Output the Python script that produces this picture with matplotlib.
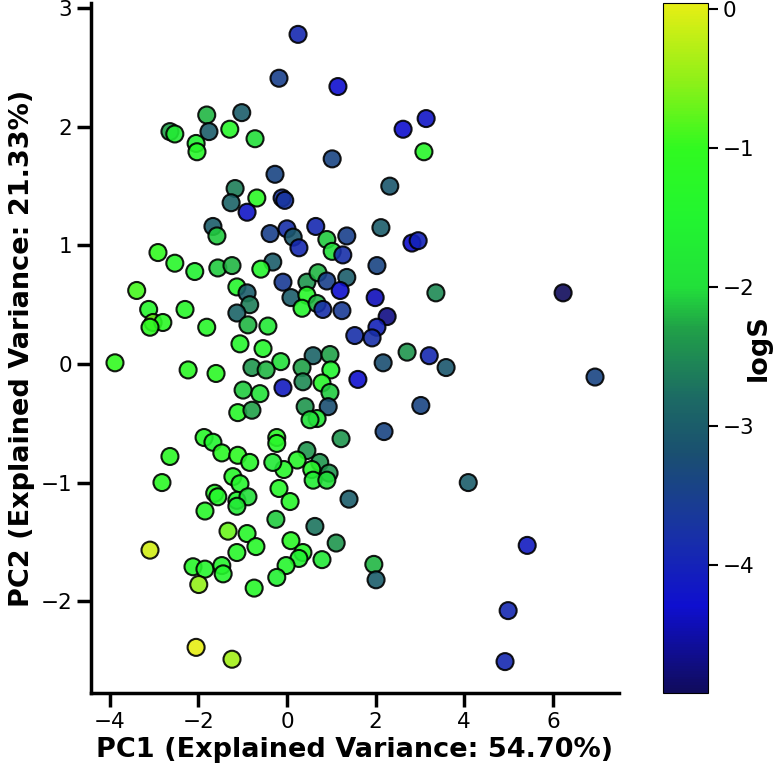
import matplotlib
matplotlib.use('Agg')
import matplotlib.pyplot as plt
from matplotlib.colors import LinearSegmentedColormap

# PCA scores (PC1, PC2) and the solubility value of each compound
pc1 = [0.25, -0.18, 1.15, -1.81, -1.02, -2.64, -2.53, -1.76, -1.29, -0.72,
       -2.05, -2.03, 1.02, -0.27, -1.17, -1.26, -0.68, -0.90, -0.11, -0.05,
       -1.67, -1.58, -0.38, 0.00, 0.14, 0.27, 0.65, 0.90, 1.02, 1.35,
       1.26, -2.91, 2.62, 3.14, 3.09, 2.32, 2.12, 2.82, 2.96, -0.32,
       2.03, -0.09, 0.45, 0.70, 0.90, 1.35, 1.20, 0.09, 0.45, 0.34,
       0.68, 0.81, 1.24, 1.99, 2.26, 2.03, 1.53, 1.92, 0.59, 0.97,
       -0.14, 0.34, 0.99, 2.17, 2.71, 3.36, 6.23, 3.21, 3.59, 6.95,
       1.60, 3.02, 2.19, 1.22, 0.79, 0.97, 0.36, 0.41, 0.93, 0.68,
       0.52, -0.09, -0.23, -0.23, 0.45, 0.74, 0.56, 0.95, 0.59, 0.90,
       0.23, -0.07, -0.32, -0.18, 0.07, -0.25, -2.53, -2.08, -1.56, -1.24,
       -0.59, -3.39, -3.12, -2.30, -3.02, -2.80, -3.09, -1.13, -0.90, -0.84,
       -1.13, -0.88, -0.43, -1.81, -1.06, -0.54, -3.88, -2.23, -1.60, -0.79,
       -0.47, -0.99, -0.61, -1.11, -0.79, -1.87, -1.67, -1.47, -1.11, -0.84,
       -2.64, -2.82, -1.22, -1.06, -1.63, -1.56, -1.13, -0.88, -1.13, -1.85,
       -1.33, -0.90, -0.70, -1.13, -3.09, -2.12, -1.85, -1.47, -1.44, -1.99,
       -0.74, -2.05, -1.24, 0.63, 1.11, 0.79, 1.96, 2.01, 0.09, 0.36,
       0.27, -0.02, -0.23, 1.40, 4.09, 5.42, 4.99, 4.92]
pc2 = [2.78, 2.41, 2.34, 2.10, 2.12, 1.96, 1.94, 1.96, 1.98, 1.90,
       1.86, 1.79, 1.73, 1.60, 1.48, 1.36, 1.40, 1.28, 1.40, 1.38,
       1.16, 1.08, 1.10, 1.14, 1.07, 0.98, 1.16, 1.05, 0.95, 1.08,
       0.92, 0.94, 1.98, 2.07, 1.79, 1.50, 1.15, 1.02, 1.04, 0.86,
       0.83, 0.69, 0.69, 0.77, 0.70, 0.73, 0.62, 0.56, 0.58, 0.47,
       0.51, 0.46, 0.45, 0.56, 0.40, 0.31, 0.24, 0.22, 0.07, 0.08,
       0.02, -0.03, -0.05, 0.01, 0.10, 0.60, 0.60, 0.07, -0.03, -0.11,
       -0.13, -0.35, -0.57, -0.63, -0.16, -0.24, -0.15, -0.36, -0.36, -0.46,
       -0.47, -0.20, -0.62, -0.67, -0.73, -0.83, -0.89, -0.92, -0.98, -0.98,
       -0.81, -0.89, -0.83, -1.05, -1.16, -1.31, 0.85, 0.78, 0.81, 0.83,
       0.80, 0.62, 0.46, 0.46, 0.35, 0.35, 0.31, 0.65, 0.60, 0.50,
       0.43, 0.33, 0.32, 0.31, 0.17, 0.13, 0.01, -0.05, -0.08, -0.03,
       -0.05, -0.22, -0.25, -0.41, -0.39, -0.62, -0.66, -0.75, -0.77, -0.83,
       -0.78, -1.00, -0.95, -1.01, -1.09, -1.12, -1.15, -1.12, -1.20, -1.24,
       -1.41, -1.43, -1.54, -1.59, -1.57, -1.71, -1.73, -1.70, -1.77, -1.86,
       -1.89, -2.39, -2.49, -1.37, -1.51, -1.65, -1.69, -1.82, -1.49, -1.59,
       -1.64, -1.70, -1.80, -1.14, -1.00, -1.53, -2.08, -2.51]
logs = [-3.9, -3.5, -4.3, -2.2, -3.0, -2.3, -1.7, -3.0, -1.3, -2.0,
        -1.6, -1.3, -3.4, -3.4, -2.6, -2.9, -1.2, -4.2, -3.7, -3.7,
        -3.0, -2.1, -3.5, -3.8, -3.1, -3.9, -3.9, -2.1, -2.0, -3.5,
        -3.8, -1.0, -4.3, -4.2, -1.3, -3.1, -3.0, -4.3, -4.0, -3.0,
        -3.4, -3.6, -2.4, -2.2, -3.5, -3.0, -4.3, -3.0, -1.3, -1.4,
        -2.2, -3.8, -3.6, -4.4, -4.7, -4.0, -3.8, -3.8, -2.9, -2.3,
        -2.0, -2.3, -1.5, -3.2, -2.4, -2.5, -4.92, -3.9, -3.1, -3.4,
        -4.3, -3.4, -3.4, -2.4, -1.3, -2.1, -2.5, -2.4, -3.2, -1.8,
        -2.0, -4.1, -1.2, -1.3, -2.4, -2.4, -1.3, -2.4, -1.7, -2.0,
        -1.3, -1.3, -1.8, -1.3, -1.3, -2.1, -1.3, -1.6, -2.1, -2.2,
        -1.4, -0.9, -1.4, -1.3, -0.7, -1.2, -1.1, -1.4, -3.0, -2.6,
        -2.9, -2.2, -1.8, -1.3, -1.4, -1.4, -1.0, -1.2, -1.2, -2.4,
        -2.2, -2.1, -1.9, -1.3, -2.3, -1.3, -1.5, -1.2, -1.1, -1.3,
        -1.2, -1.2, -1.3, -1.4, -1.3, -1.4, -1.5, -2.0, -1.8, -1.3,
        -0.7, -1.3, -1.3, -1.3, -0.1, -1.3, -1.4, -1.4, -1.4, -0.5,
        -1.3, 0.04, -0.4, -2.7, -2.4, -1.8, -2.2, -3.0, -1.2, -1.3,
        -1.6, -1.4, -1.6, -3.0, -3.0, -4.1, -3.9, -3.9]

# colour map sampled from the colour bar (navy -> blue -> teal -> green -> yellow)
cmap_nodes = [0.0, 0.125, 0.226, 0.347, 0.427, 0.528, 0.589, 0.69, 0.79, 0.89, 1.0]
cmap_colors = ['#100c5c', '#0f0fcf', '#1830a8', '#1a5070', '#1c6a64', '#20a048',
               '#22e03a', '#22f530', '#30fa20', '#90f018', '#e6ee14']
cmap = LinearSegmentedColormap.from_list('logs_map', list(zip(cmap_nodes, cmap_colors)))

fig = plt.figure(figsize=(7.73, 7.74), dpi=100)
ax = fig.add_axes([0.1177, 0.1047, 0.6831, 0.8914])
cax = fig.add_axes([0.8577, 0.1047, 0.0582, 0.8914])

sc = ax.scatter(pc1, pc2, c=logs, cmap=cmap, s=150, alpha=0.9,
                edgecolors='black', linewidths=1.5)

ax.set_xlabel('PC1 (Explained Variance: 54.70%)', fontsize=19.5, fontweight='bold')
ax.set_ylabel('PC2 (Explained Variance: 21.33%)', fontsize=19.5, fontweight='bold')
ax.spines['top'].set_visible(False)
ax.spines['right'].set_visible(False)
ax.spines['left'].set_linewidth(2.5)
ax.spines['bottom'].set_linewidth(2.5)
ax.tick_params(axis='both', labelsize=15.5, length=10, width=2.5)
ax.set_xticks([-4, -2, 0, 2, 4, 6])
ax.set_yticks([-2, -1, 0, 1, 2, 3])

# colour bar drawn opaque, like the reference
sm = plt.cm.ScalarMappable(norm=sc.norm, cmap=cmap)
cbar = fig.colorbar(sm, cax=cax)
cbar.set_label('logS', fontsize=19.5, fontweight='bold')
cbar.ax.yaxis.set_label_coords(1.85, 0.5)
cbar.ax.tick_params(labelsize=15.5, length=7, width=1.5)
cbar.set_ticks([0, -1, -2, -3, -4])

fig.savefig('out.png', dpi=100)
